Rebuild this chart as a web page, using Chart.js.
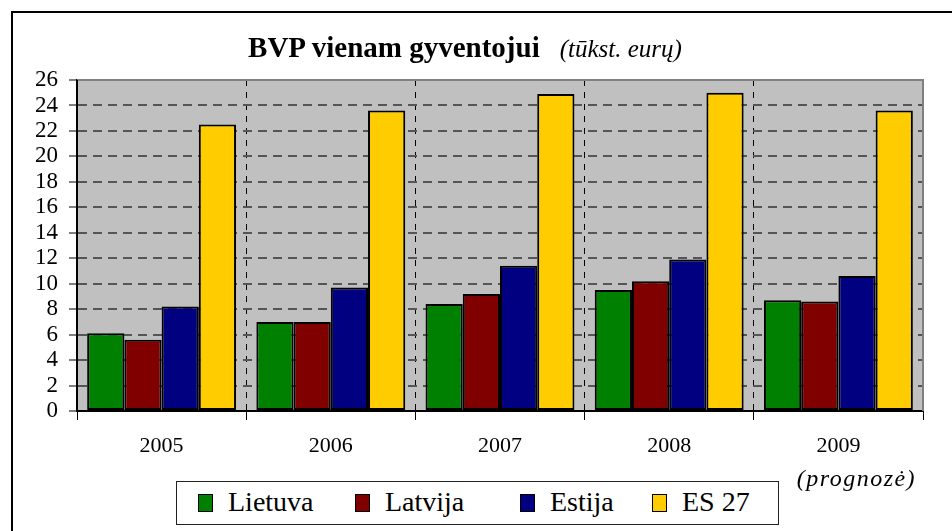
<!DOCTYPE html>
<html>
<head>
<meta charset="utf-8">
<script src="https://cdn.jsdelivr.net/npm/chart.js@4.4.1/dist/chart.umd.min.js"></script>
<style>
  html, body { margin: 0; padding: 0; background: #fff; overflow: hidden; }
  #wrap { position: relative; width: 952px; height: 531px; }
  #frame { position: absolute; left: 11px; top: 11px; width: 1000px; height: 600px;
           border-left: 2px solid #000; border-top: 2px solid #000; box-sizing: border-box; }
  canvas { position: absolute; left: 0; top: 0; }
  #title { position: absolute; left: 0; width: 930px; top: 31px; text-align: center;
           font-family: 'Liberation Serif', 'Times New Roman', serif; color: #000; white-space: nowrap; }
  #title .main { font-weight: bold; font-size: 29px; }
  #title .unit { font-style: italic; font-size: 25px; margin-left: 20px; }
  #legend { position: absolute; left: 176px; top: 481px; width: 603px; height: 44px;
            border: 1px solid #222; box-sizing: border-box; background: #fff;
            font-family: 'Liberation Serif', 'Times New Roman', serif; font-size: 28px; color: #000; }
  .item { position: absolute; top: 2px; white-space: nowrap; line-height: 36px; }
  .sw { display: inline-block; width: 13px; height: 16px; border: 1.5px solid #000;
        vertical-align: -1px; margin-right: 15px; }
</style>
</head>
<body>
<div id="wrap">
  <div id="frame"></div>
  <canvas id="c" width="952" height="531"></canvas>
  <div id="title"><span class="main">BVP vienam gyventojui</span><span class="unit">(tūkst. eurų)</span></div>
  <div id="legend"></div>
</div>
<script>
// ---- data ----
const years = ['2005', '2006', '2007', '2008', '2009'];
const yearNote = '(prognozė)';
const seriesNames = ['Lietuva', 'Latvija', 'Estija', 'ES 27'];
const lietuva = [6.1, 7.0, 8.4, 9.5, 8.7];
const latvija = [5.6, 7.0, 9.2, 10.2, 8.6];
const estija  = [8.2, 9.7, 11.4, 11.9, 10.6];
const es27    = [22.5, 23.6, 24.9, 25.0, 23.6];
const yTicks  = [0, 2, 4, 6, 8, 10, 12, 14, 16, 18, 20, 22, 24, 26];

const colors = ['#008000', '#800000', '#000080', '#FFCC00'];
const values = [lietuva, latvija, estija, es27];
const serif = "'Liberation Serif', 'Times New Roman', serif";

const plotBg = {
  id: 'plotBg',
  beforeDraw(chart) {
    const {ctx, chartArea: a} = chart;
    ctx.save();
    ctx.fillStyle = '#C0C0C0';
    ctx.fillRect(a.left, a.top, a.right - a.left, a.bottom - a.top);
    ctx.restore();
  },
  afterDraw(chart) {
    const {ctx, chartArea: a} = chart;
    ctx.save();
    ctx.strokeStyle = '#808080';
    ctx.lineWidth = 2;
    ctx.beginPath();
    ctx.moveTo(a.left, a.top);
    ctx.lineTo(a.right, a.top);
    ctx.lineTo(a.right, a.bottom);
    ctx.stroke();
    ctx.strokeStyle = '#000';
    ctx.beginPath();
    ctx.moveTo(a.left, a.top);
    ctx.lineTo(a.left, a.bottom + 1);
    ctx.stroke();
    // forecast note under last category
    const xs = chart.scales.x;
    ctx.fillStyle = '#000';
    ctx.font = 'italic 24px ' + serif;
    try { ctx.letterSpacing = '1.5px'; } catch (e) {}
    ctx.textAlign = 'center';
    ctx.textBaseline = 'alphabetic';
    ctx.fillText(yearNote, xs.getPixelForValue(years.length - 1) + 18, 486);
    ctx.restore();
  }
};

new Chart(document.getElementById('c'), {
  type: 'bar',
  data: {
    labels: years,
    datasets: seriesNames.map((n, i) => ({
      label: n,
      data: values[i],
      backgroundColor: colors[i],
      borderColor: '#000',
      borderWidth: 2,
      borderSkipped: false,
      categoryPercentage: 0.88,
      barPercentage: 1.0
    }))
  },
  options: {
    responsive: false,
    animation: false,
    devicePixelRatio: 1,
    layout: { padding: { left: 0, top: 80, right: 29, bottom: 60 } },
    plugins: {
      legend: { display: false },
      title: { display: false },
      tooltip: { enabled: false }
    },
    scales: {
      x: {
        offset: true,
        grid: { offset: true, color: '#000', lineWidth: 1, tickColor: '#000', tickLength: 9, tickWidth: 1 },
        border: { display: true, color: '#000', width: 2, dash: [6, 6] },
        ticks: { color: '#000', font: { family: serif, size: 22 }, padding: 13, maxRotation: 0 },
        afterFit(s) { s.height = 60; }
      },
      y: {
        min: 0, max: 26,
        afterBuildTicks(s) { s.ticks = yTicks.map(v => ({ value: v })); },
        grid: { color: '#555', lineWidth: 2, tickColor: '#000', tickLength: 8, tickWidth: 1 },
        border: { display: true, color: '#000', width: 2, dash: [9, 6] },
        ticks: { color: '#000', font: { family: serif, size: 23 }, padding: 11, autoSkip: false },
        afterFit(s) { s.width = 77; }
      }
    }
  },
  plugins: [plotBg]
});

// ---- HTML legend built from the series ----
const legendLeft = [21, 178, 343, 475];
const lg = document.getElementById('legend');
seriesNames.forEach((n, i) => {
  const d = document.createElement('div');
  d.className = 'item';
  d.style.left = legendLeft[i] + 'px';
  const sw = document.createElement('span');
  sw.className = 'sw';
  sw.style.background = colors[i];
  d.appendChild(sw);
  d.appendChild(document.createTextNode(n));
  lg.appendChild(d);
});
</script>
</body>
</html>
